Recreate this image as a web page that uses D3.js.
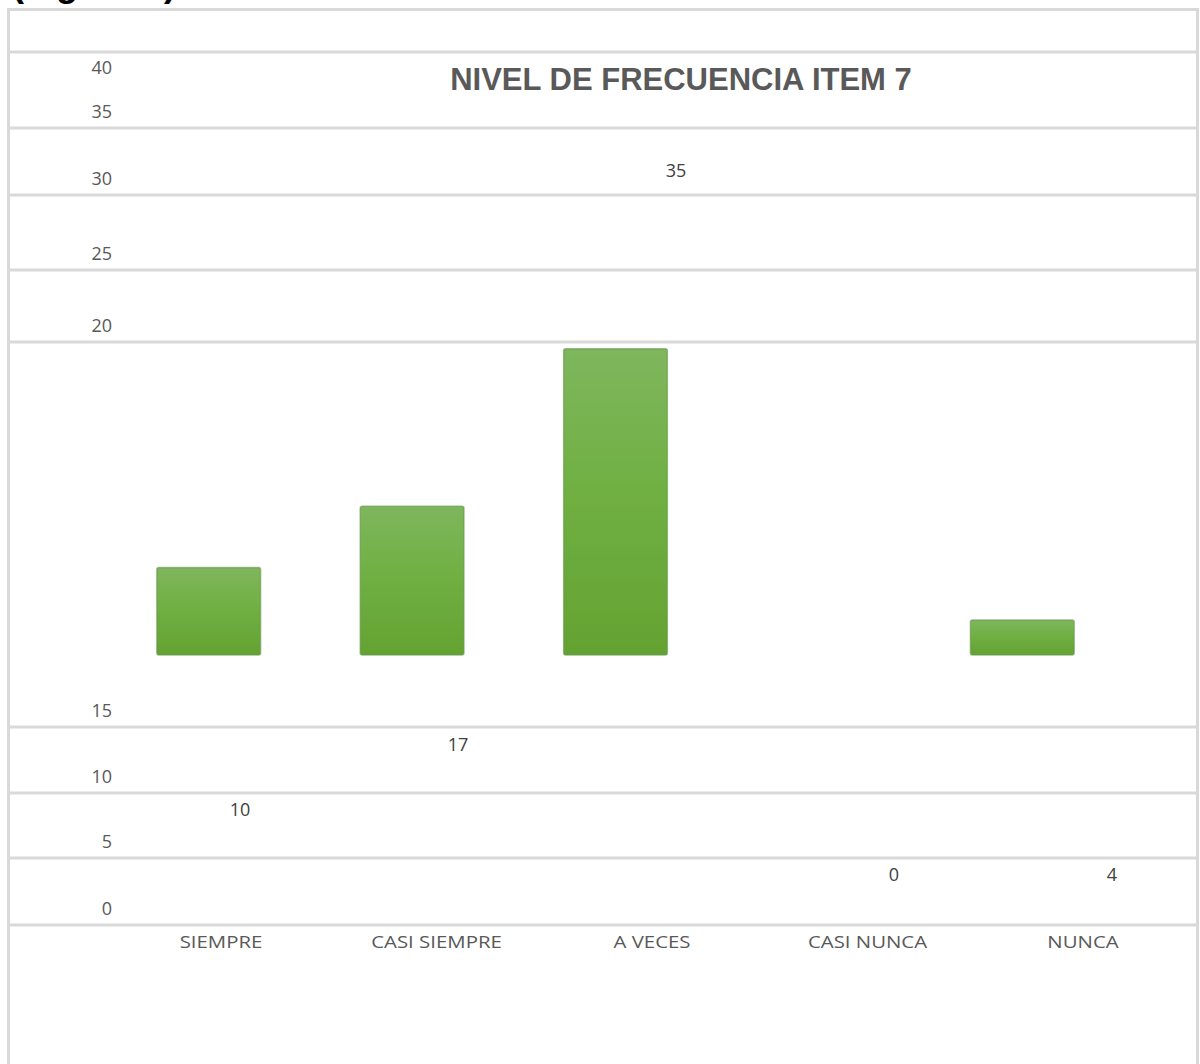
<!DOCTYPE html>
<html>
<head>
<meta charset="utf-8">
<script src="https://cdn.jsdelivr.net/npm/d3@7"></script>
<style>
  body { margin: 0; background: #fff; }
  svg { display: block; }
</style>
</head>
<body>
<div class="chart-container"></div>
<script>
const categories = ['SIEMPRE', 'CASI SIEMPRE', 'A VECES', 'CASI NUNCA', 'NUNCA'];
const frequencies = [10, 17, 35, 0, 4];
const yTicks = [0, 5, 10, 15, 20, 25, 30, 35, 40];
const chartTitle = 'NIVEL DE FRECUENCIA ITEM 7';
const figureCaption = '(Figura 7)';

const width = 1200;
const height = 1064;
const grey = '#595959';
const gridColor = '#d9d9d9';

function createSvg() {
  return d3.select('.chart-container')
    .append('svg')
    .attr('width', width)
    .attr('height', height);
}

function createGradient(svg) {
  const defs = svg.append('defs');
  const grad = defs.append('linearGradient')
    .attr('id', 'barFill')
    .attr('x1', 0).attr('y1', 0)
    .attr('x2', 0).attr('y2', 1);
  grad.append('stop').attr('offset', '0%').attr('stop-color', '#7fb65e');
  grad.append('stop').attr('offset', '45%').attr('stop-color', '#70b043');
  grad.append('stop').attr('offset', '100%').attr('stop-color', '#64a232');

  defs.append('filter').attr('id', 'soft')
    .append('feGaussianBlur').attr('stdDeviation', 0.7);
}

function drawFrame(svg, yGrid) {
  const frame = svg.append('g');
  // outer border (left, top, right)
  frame.append('path')
    .attr('d', `M8.5,${height} V9.5 H1197.5 V${height}`)
    .attr('fill', 'none')
    .attr('stroke', gridColor)
    .attr('stroke-width', 3);

  // the text layer's gridlines: the grid scale is broken around the picture
  frame.selectAll('line.grid')
    .data(yTicks)
    .join('line')
    .attr('class', 'grid')
    .attr('x1', 8)
    .attr('x2', 1198)
    .attr('y1', d => yGrid(d))
    .attr('y2', d => yGrid(d))
    .attr('stroke', gridColor)
    .attr('stroke-width', 3);

  frame.selectAll('text.tick')
    .data(yTicks)
    .join('text')
    .attr('class', 'tick')
    .attr('x', 112)
    .attr('y', d => d === 40 ? yGrid(d) + 16 : yGrid(d) - 16)
    .attr('dy', '0.35em')
    .attr('text-anchor', 'end')
    .attr('font-family', 'Open Sans, Noto Sans, sans-serif')
    .attr('font-size', 18)
    .attr('fill', grey)
    .text(d => d);
}

function drawBars(svg) {
  const x = d3.scaleBand()
    .domain(categories)
    .range([107, 1124])
    .paddingInner(0.49)
    .paddingOuter(0.245);

  const y = d3.scaleLinear()
    .domain([0, 40])
    .range([655, 305]);

  svg.append('g')
    .selectAll('rect')
    .data(categories.map((c, i) => ({ c, v: frequencies[i] })))
    .join('rect')
    .attr('x', d => x(d.c))
    .attr('y', d => y(d.v))
    .attr('width', x.bandwidth())
    .attr('height', d => y(0) - y(d.v))
    .attr('rx', 2)
    .attr('fill', 'url(#barFill)')
    .attr('stroke', '#66964a')
    .attr('stroke-opacity', 0.6)
    .attr('stroke-width', 1.5)
    .attr('filter', 'url(#soft)');
}

function drawLabels(svg) {
  const xCat = d3.scalePoint().domain(categories).range([221, 1083]);
  const xVal = d3.scalePoint().domain(categories).range([240, 1112]);
  // value labels fall into rows of the text layer
  const yVal = d3.scaleThreshold()
    .domain([5, 15, 20])
    .range([875, 810, 745, 171]);

  // category names come out stretched sideways in the source
  svg.append('g')
    .selectAll('text')
    .data(categories)
    .join('text')
    .attr('transform', d => `translate(${xCat(d)},942) scale(1.2,1)`)
    .attr('dy', '0.35em')
    .attr('text-anchor', 'middle')
    .attr('font-family', 'Open Sans, Noto Sans, sans-serif')
    .attr('font-size', 17)
    .attr('fill', grey)
    .text(d => d);

  svg.append('g')
    .selectAll('text')
    .data(frequencies.map((v, i) => ({ c: categories[i], v })))
    .join('text')
    .attr('x', d => xVal(d.c))
    .attr('y', d => yVal(d.v))
    .attr('dy', '0.35em')
    .attr('text-anchor', 'middle')
    .attr('font-family', 'Open Sans, Noto Sans, sans-serif')
    .attr('font-size', 18)
    .attr('fill', '#404040')
    .text(d => d.v);

  svg.append('text')
    .attr('x', 681)
    .attr('y', 90)
    .attr('text-anchor', 'middle')
    .attr('font-family', 'Liberation Sans, Arial, sans-serif')
    .attr('font-weight', 'bold')
    .attr('font-size', 31)
    .attr('fill', grey)
    .text(chartTitle);

  svg.append('text')
    .attr('x', 12)
    .attr('y', -4)
    .attr('font-family', 'Liberation Sans, Arial, sans-serif')
    .attr('font-weight', 'bold')
    .attr('font-size', 36)
    .attr('fill', '#000')
    .text(figureCaption);
}

const svg = createSvg();
createGradient(svg);
const yGrid = d3.scaleLinear()
  .domain(yTicks)
  .range([925, 858, 793, 727, 342, 270, 195, 128, 52]);
drawFrame(svg, yGrid);
drawBars(svg);
drawLabels(svg);
</script>
</body>
</html>
